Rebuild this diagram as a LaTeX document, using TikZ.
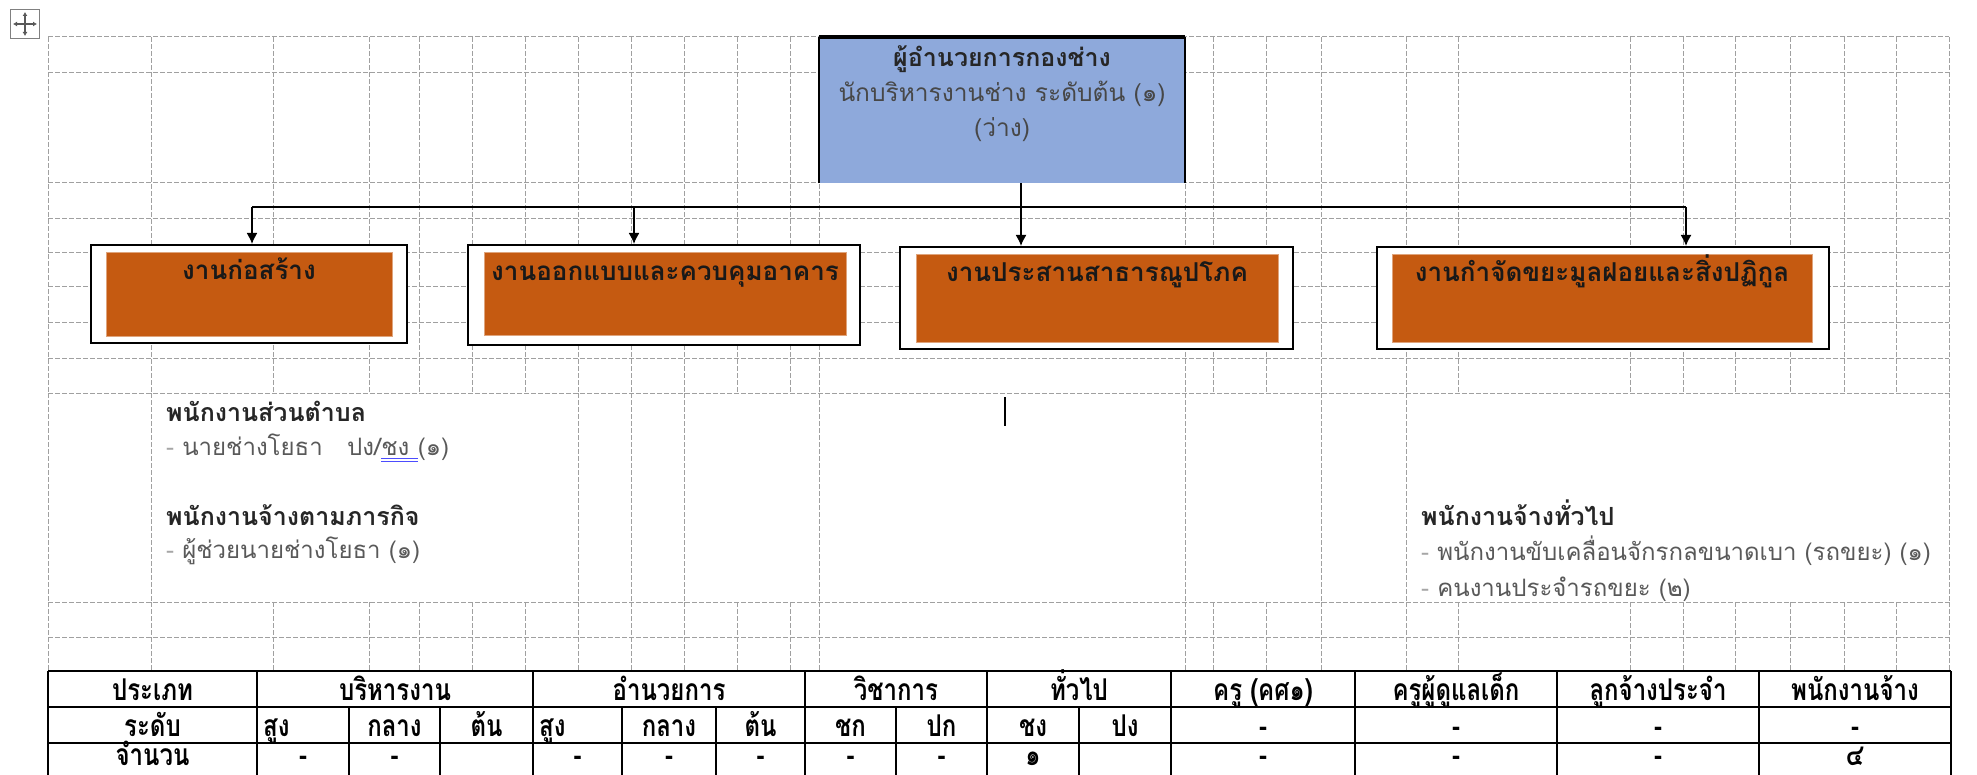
\documentclass[tikz,border=0pt]{standalone}
\usepackage{fontspec}
\setmainfont[Script=Thai]{Loma}
\newfontfamily\tabfont[Script=Thai,FakeStretch=0.8]{Loma}
\usetikzlibrary{arrows.meta,calc}

\definecolor{chiefblue}{RGB}{142,169,219}
\definecolor{unitorange}{RGB}{197,90,17}
\definecolor{gridgrey}{RGB}{160,160,160}
\definecolor{textgrey}{RGB}{89,89,89}
\newcommand{\bul}{{\color{black!35}-}}

\tikzset{
  gridline/.style={gridgrey, line width=1pt, dash pattern=on 5pt off 2pt},
  unitframe/.style={draw=black, line width=2pt, fill=white, inner sep=0pt},
  unitfill/.style={fill=unitorange, draw=unitorange!55!white, line width=0.8pt, inner sep=0pt},
  unittext/.style={font=\fontsize{26}{30}\selectfont\bfseries, text=black!90, anchor=base, inner sep=0pt},
  headtext/.style={font=\fontsize{25}{30}\selectfont\bfseries, text=black!85, anchor=base west, inner sep=0pt},
  bodytext/.style={font=\fontsize{24}{30}\selectfont, text=textgrey, anchor=base west, inner sep=0pt},
  chieftext/.style={font=\fontsize{24.5}{30}\selectfont, text=black!72, anchor=base, inner sep=0pt},
  tabtext/.style={font=\tabfont\fontsize{30}{34}\selectfont\bfseries, anchor=base, inner sep=0pt, text depth=0pt},
  tabline/.style={line width=2pt},
  bus/.style={line width=1.6pt},
  busarrow/.style={bus, -{Latex[length=11pt,width=11pt]}},
}

\begin{document}
\begin{tikzpicture}[x=1pt,y=-1pt]
\useasboundingbox (0,0) rectangle (1977,775);

% dashed grid of the layout table
\foreach \y in {37,73,183,219,253,287,323,358,393,602,637}
  \draw[gridline] (48,\y) -- (1949,\y);
\foreach \x in {48,151,273,369,419,472,525,578,631,684,737,790,819,1185,1213,1266,1321,1406,1458,1630,1683,1735,1790,1844,1896,1949} {
  \draw[gridline] (\x,37) -- (\x,393);
  \draw[gridline] (\x,602) -- (\x,671);
}
\foreach \x in {48,151,578,631,684,819,1185,1321,1406,1949}
  \draw[gridline] (\x,393) -- (\x,602);

% table handle
\node[draw=gray, line width=1pt, minimum size=29pt, inner sep=0pt] (handle) at (25,24) {};
\draw[gray!70!black, line width=1.2pt, {Latex[length=4pt,width=5pt]}-{Latex[length=4pt,width=5pt]}]
  ($(handle.west)+(3,0)$) -- ($(handle.east)+(-3,0)$);
\draw[gray!70!black, line width=1.2pt, {Latex[length=4pt,width=5pt]}-{Latex[length=4pt,width=5pt]}]
  ($(handle.north)+(0,3)$) -- ($(handle.south)+(0,-3)$);

% chief
\node[fill=chiefblue, minimum width=366pt, minimum height=146pt, inner sep=0pt] (chief) at (1002,110) {};
\draw[line width=2pt] (chief.south west) -- (chief.north west);
\draw[line width=2pt] (chief.south east) -- (chief.north east);
\draw[line width=3.5pt] (chief.north west) -- (chief.north east);
\node[chieftext, font=\fontsize{25}{30}\selectfont\bfseries, text=black!85] (chief1) at (1002,67) {ผู้อำนวยการกองช่าง};
\node[chieftext] (chief2) at (1002,102) {นักบริหารงานช่าง ระดับต้น (๑)};
\node[chieftext] (chief3) at (1002,137) {(ว่าง)};

% units
\node[unitframe, minimum width=316pt, minimum height=98pt] (u1) at (249,294) {};
\node[unitframe, minimum width=392pt, minimum height=100pt] (u2) at (664,295) {};
\node[unitframe, minimum width=393pt, minimum height=102pt] (u3) at (1096,298) {};
\node[unitframe, minimum width=452pt, minimum height=102pt] (u4) at (1603,298) {};
\node[unitfill, minimum width=286pt, minimum height=84pt] (f1) at (249,294) {};
\node[unitfill, minimum width=362pt, minimum height=83pt] (f2) at (665,294) {};
\node[unitfill, minimum width=362pt, minimum height=88pt] (f3) at (1097,298) {};
\node[unitfill, minimum width=420pt, minimum height=88pt] (f4) at (1602,298) {};
\node[unittext] (t1) at ($(f1.north)+(0,28)$) {งานก่อสร้าง};
\node[unittext] (t2) at ($(f2.north)+(0,28)$) {งานออกแบบและควบคุมอาคาร};
\node[unittext] (t3) at ($(f3.north)+(0,28)$) {งานประสานสาธารณูปโภค};
\node[unittext] (t4) at ($(f4.north)+(0,28)$) {งานกำจัดขยะมูลฝอยและสิ่งปฏิกูล};

% bus
\coordinate (b1) at (252,207);
\coordinate (b2) at (634,207);
\coordinate (b3) at (1021,207);
\coordinate (b4) at (1686,207);
\draw[bus] (b1) -- (b4);
\draw[bus] (chief.south -| b3) -- (b3);
\foreach \i in {1,...,4}
  \draw[busarrow] (b\i) -- (b\i |- u\i.north);

\draw[line width=1.5pt] (1005,397) -- (1005,426);

% staff lists
\node[headtext] (pst) at (166,421) {พนักงานส่วนตำบล};
\node[bodytext] (pst1) at (166,455) {\bul\ นายช่างโยธา \ \ ปง/};
\node[bodytext] (pst1b) at (pst1.base east) {ชง\ \ };
\node[bodytext] (pst1c) at (pst1b.base east) {(๑)};
\draw[blue!70, line width=1pt] ($(pst1b.base west)+(0,3)$) -- ($(pst1b.base east)+(0,3)$)
  ($(pst1b.base west)+(0,6)$) -- ($(pst1b.base east)+(0,6)$);
\node[headtext] (mis) at (166,525) {พนักงานจ้างตามภารกิจ};
\node[bodytext] (mis1) at (166,558) {\bul\ ผู้ช่วยนายช่างโยธา (๑)};

\node[headtext] (gen) at (1421,525) {พนักงานจ้างทั่วไป};
\node[bodytext] (gen1) at (1421,560) {\bul\ พนักงานขับเคลื่อนจักรกลขนาดเบา (รถขยะ) (๑)};
\node[bodytext] (gen2) at (1421,596) {\bul\ คนงานประจำรถขยะ (๒)};

% staff table
\foreach \y in {671,707,743}
  \draw[tabline] (48,\y) -- (1951,\y);
\foreach \x in {48,257,533,805,987,1171,1355,1557,1759,1951}
  \draw[tabline] (\x,671) -- (\x,780);
\foreach \x in {349,440,622,716,896,1079}
  \draw[tabline] (\x,707) -- (\x,780);

\foreach \a/\b/\t [count=\i] in {48/257/ประเภท, 257/533/บริหารงาน, 533/805/อำนวยการ,
    805/987/วิชาการ, 987/1171/ทั่วไป, 1171/1355/ครู (คศ๑), 1355/1557/ครูผู้ดูแลเด็ก,
    1557/1759/ลูกจ้างประจำ, 1759/1951/พนักงานจ้าง}
  \node[tabtext] (h\i) at ({(\a+\b)/2},700) {\t};

\foreach \a/\b/\t [count=\i] in {48/257/ระดับ, 349/440/กลาง, 440/533/ต้น, 622/716/กลาง,
    716/805/ต้น, 805/896/ชก, 896/987/ปก, 987/1079/ชง, 1079/1171/ปง, 1171/1355/-,
    1355/1557/-, 1557/1759/-, 1759/1951/-}
  \node[tabtext] (l\i) at ({(\a+\b)/2},736) {\t};
\node[tabtext, anchor=base west] (l14) at (263,736) {สูง};
\node[tabtext, anchor=base west] (l15) at (539,736) {สูง};

\foreach \a/\b/\t [count=\i] in {48/257/จำนวน, 257/349/-, 349/440/-, 533/622/-, 622/716/-,
    716/805/-, 805/896/-, 896/987/-, 987/1079/๑, 1171/1355/-, 1355/1557/-, 1557/1759/-,
    1759/1951/๔}
  \node[tabtext] (n\i) at ({(\a+\b)/2},765) {\t};
\end{tikzpicture}
\end{document}
